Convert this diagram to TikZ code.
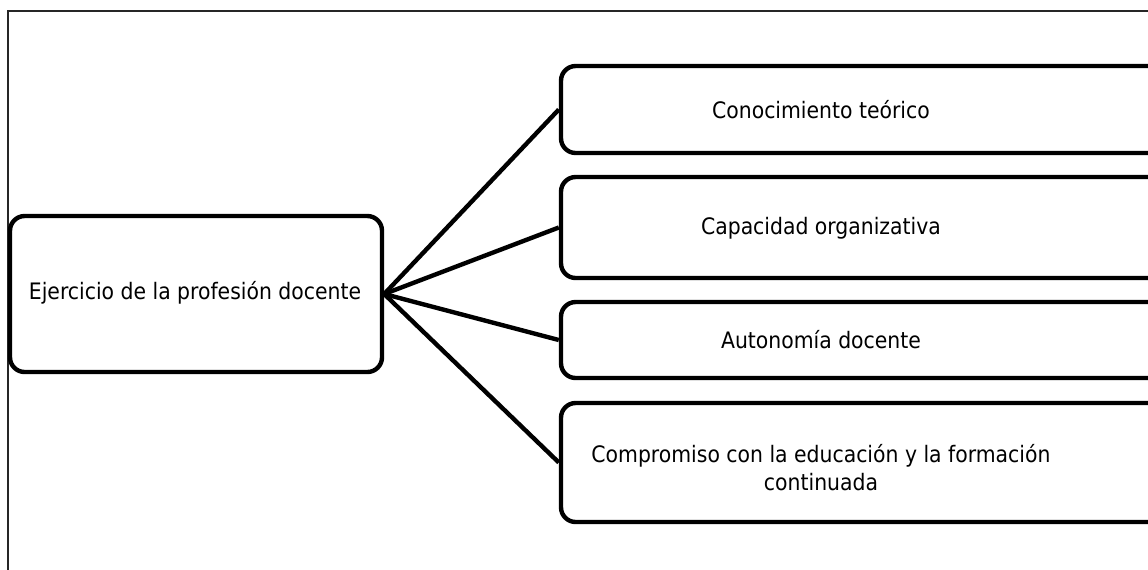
\documentclass[tikz,border=0pt]{standalone}
\usepackage{fontspec}
\setmainfont{DejaVu Sans Condensed}
\begin{document}
\begin{tikzpicture}[x=0.75pt,y=-0.75pt,
  box/.style={draw=black,line width=3.3pt,rounded corners=11pt,inner sep=0pt},
  lbl/.style={font=\fontsize{17pt}{21pt}\selectfont,align=center,inner sep=0pt},
  conn/.style={line width=3.3pt}]
\useasboundingbox (0,0) rectangle (1148,569);
\clip (0,0) rectangle (1148,569);
\draw[line width=0.8pt,color=black!85] (8,600) -- (8,11) -- (1200,11);
% main box
\node[box,minimum width=279pt,minimum height=117pt] (main) at (196,294) {};
\node[lbl] (maint) at (195,293) {Ejercicio de la profesión docente};
% right boxes
\node[box,minimum width=453pt,minimum height=65.25pt] (b1) at (863,109.5) {};
\node[box,minimum width=453pt,minimum height=75.75pt] (b2) at (863,227.5) {};
\node[box,minimum width=453pt,minimum height=57pt] (b3) at (863,340) {};
\node[box,minimum width=453pt,minimum height=89.25pt] (b4) at (863,462.5) {};
\node[lbl] (t1) at (821,110) {Conocimiento teórico};
\node[lbl] (t2) at (821,228) {Capacidad organizativa};
\node[lbl] (t3) at (821,340) {Autonomía docente};
\node[lbl] (t4) at (821,468) {Compromiso con la educación y la formación\\continuada};
% connectors
\foreach \b in {b1,b2,b3,b4}
  \draw[conn] (main.east) -- (\b.west);
\end{tikzpicture}
\end{document}
